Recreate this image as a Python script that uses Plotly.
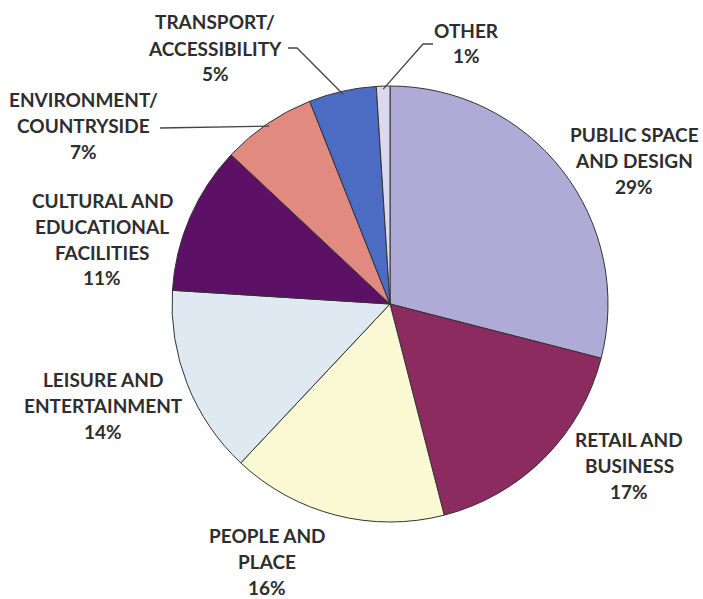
import math
import plotly.graph_objects as go

# ---- data ----
categories = ["PUBLIC SPACE AND DESIGN", "RETAIL AND BUSINESS", "PEOPLE AND PLACE",
              "LEISURE AND ENTERTAINMENT", "CULTURAL AND EDUCATIONAL FACILITIES",
              "ENVIRONMENT/ COUNTRYSIDE", "TRANSPORT/ ACCESSIBILITY", "OTHER"]
values = [29, 17, 16, 14, 11, 7, 5, 1]
label_lines = [
    ["PUBLIC SPACE", "AND DESIGN"],
    ["RETAIL AND", "BUSINESS"],
    ["PEOPLE AND", "PLACE"],
    ["LEISURE AND", "ENTERTAINMENT"],
    ["CULTURAL AND", "EDUCATIONAL", "FACILITIES"],
    ["ENVIRONMENT/", "COUNTRYSIDE"],
    ["TRANSPORT/", "ACCESSIBILITY"],
    ["OTHER"],
]
colors = ["#b0aad6", "#8c2b60", "#fbf9d3", "#dee9f2", "#5c1066", "#e08a80", "#4b6cc2", "#dcd8ee"]

# ---- layout (pixels) ----
W, H = 703, 599
CX, CY, R = 390, 304, 218
# label block centers (pixel)
label_pos = [(634, 160), (629, 465), (267, 561), (103, 405), (102, 239), (83, 125), (215, 48), (466, 43)]
LINE_GAP = 26

def px(x):
    return x / W

def py(y):
    return 1 - y / H

fig = go.Figure(go.Pie(
    labels=categories, values=values, sort=False, direction="clockwise", rotation=0,
    marker=dict(colors=colors, line=dict(color="#333333", width=1)),
    textinfo="none", hoverinfo="label+percent",
    domain=dict(x=[px(CX - R), px(CX + R)], y=[py(CY + R), py(CY - R)]),
))

annotations = []
total = sum(values)
for lines, v, (lx, ly) in zip(label_lines, values, label_pos):
    all_lines = lines + [f"{round(100 * v / total)}%"]
    n = len(all_lines)
    for i, t in enumerate(all_lines):
        yy = ly + (i - (n - 1) / 2) * LINE_GAP
        annotations.append(dict(
            x=px(lx), y=py(yy), xref="paper", yref="paper", text=f"<b>{t}</b>",
            showarrow=False, xanchor="center", yanchor="middle",
            font=dict(family="Lato", size=19, color="#2e2e2e"),
        ))

# leader lines: from label side to pie edge at slice mid-angle
cum = 0
mid_angles = []
for v in values:
    mid_angles.append((cum + v / 2) / total * 360)
    cum += v

def edge(idx, rr=R):
    a = math.radians(mid_angles[idx])
    return CX + rr * math.sin(a), CY - rr * math.cos(a)

shapes = []
leaders = {
    5: [(160, 128)],            # environment
    6: [(288, 48), (297, 48)],  # transport
    7: [(433, 44), (423, 44)],  # other
}
for idx, pts in leaders.items():
    ex, ey = edge(idx, R - 3)
    allpts = pts + [(ex, ey)]
    path = "M " + " L ".join(f"{px(x):.5f},{py(y):.5f}" for x, y in allpts)
    shapes.append(dict(type="path", path=path, xref="paper", yref="paper",
                       line=dict(color="#444444", width=1.3)))

fig.update_layout(
    width=W, height=H, margin=dict(l=0, r=0, t=0, b=0),
    paper_bgcolor="white", plot_bgcolor="white", showlegend=False,
    annotations=annotations, shapes=shapes,
)
fig.write_html("out.html")
